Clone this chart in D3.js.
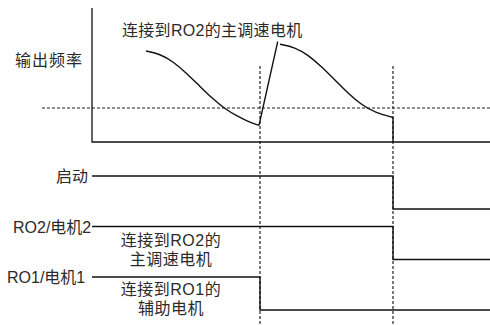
<!DOCTYPE html>
<html>
<head>
<meta charset="utf-8">
<script src="https://cdn.jsdelivr.net/npm/d3@7"></script>
<style>
  body { margin: 0; background: #fff; }
  text { font-family: "Liberation Sans", Arial, "Noto Sans CJK SC", sans-serif; fill: #2a2a2a; }
</style>
</head>
<body>
<svg width="490" height="325"></svg>
<script>
// frequency curves: [time, freq]
const curveAux = [[54, 91], [68, 88], [81, 80.5], [95, 68.5], [108, 55.5], [121, 43], [133, 33], [145, 26], [158, 19.5], [167, 16.7]];
const riseLine = [[167, 16.7], [185.7, 100.3]];
const curveMain = [[188, 97.7], [203, 94.7], [216, 87], [229.7, 75.3], [243, 62], [256, 48.7], [269.7, 37], [283, 29.5], [301, 24.5]];
const dropLine = [[301, 24.5], [301, 0]];
const threshold = 34;
const switchTimes = [168, 301];

// relay signals: [time, level]
const signalNames = ['启动', 'RO2/电机2', 'RO1/电机1'];
const signalSteps = [
  [[0, 1], [301, 0], [398, 0]],
  [[0, 1], [301, 0], [398, 0]],
  [[0, 1], [168, 0], [398, 0]]
];
const topLabel = '连接到RO2的主调速电机';
const yLabel = '输出频率';
const noteRO2 = ['连接到RO2的', '主调速电机'];
const noteRO1 = ['连接到RO1的', '辅助电机'];

const svg = d3.select('svg');
const x = d3.scaleLinear().domain([0, 398]).range([92, 490]);
const y = d3.scaleLinear().domain([0, 134]).range([142, 8]);
const row = d3.scalePoint().domain(signalNames).range([176, 277]);
const level = d3.scaleLinear().domain([0, 1]).range([33, 0]);

// vertical switch markers
svg.selectAll('.vmark')
  .data(switchTimes)
  .enter()
  .append('line')
  .attr('class', 'vmark')
  .attr('x1', d => x(d)).attr('x2', d => x(d))
  .attr('y1', 66).attr('y2', 325)
  .attr('stroke', '#444')
  .attr('stroke-width', 1.4)
  .attr('stroke-dasharray', '3,2');

// threshold
svg.append('line')
  .attr('x1', 42).attr('x2', 490)
  .attr('y1', y(threshold)).attr('y2', y(threshold))
  .attr('stroke', '#222')
  .attr('stroke-width', 1.2)
  .attr('stroke-dasharray', '3,2');

// axes
svg.append('path')
  .attr('d', `M${x(0)},${y(134)}V${y(0)}H${x(398)}`)
  .attr('fill', 'none')
  .attr('stroke', '#111')
  .attr('stroke-width', 1.3);

const smooth = d3.line().x(d => x(d[0])).y(d => y(d[1])).curve(d3.curveBasis);
const straight = d3.line().x(d => x(d[0])).y(d => y(d[1]));

[[curveAux, smooth], [riseLine, straight], [curveMain, smooth], [dropLine, straight]].forEach(([data, gen]) => {
  svg.append('path')
    .attr('d', gen(data))
    .attr('fill', 'none')
    .attr('stroke', '#111')
    .attr('stroke-width', 1.4);
});

svg.append('text')
  .attr('x', 122).attr('y', 36)
  .attr('font-size', 16)
  .attr('letter-spacing', 0.3)
  .text(topLabel);

svg.append('text')
  .attr('x', 15).attr('y', 66)
  .attr('font-size', 16)
  .attr('letter-spacing', 1)
  .text(yLabel);

// signals
signalNames.forEach((name, i) => {
  const base = row(name);
  const step = d3.line()
    .x(d => x(d[0]))
    .y(d => base + level(d[1]))
    .curve(d3.curveStepAfter);
  svg.append('path')
    .attr('d', step(signalSteps[i]))
    .attr('fill', 'none')
    .attr('stroke', '#111')
    .attr('stroke-width', 1.4);
});

svg.append('text').attr('x', 88).attr('y', row('启动') + 6)
  .attr('text-anchor', 'end').attr('font-size', 16).text('启动');
svg.append('text').attr('x', 13).attr('y', row('RO2/电机2') + 6)
  .attr('font-size', 16).text('RO2/电机2');
svg.append('text').attr('x', 7).attr('y', row('RO1/电机1') + 6)
  .attr('font-size', 16).text('RO1/电机1');

[[noteRO2, 246], [noteRO1, 295]].forEach(([lines, y0]) => {
  lines.forEach((t, j) => {
    svg.append('text')
      .attr('x', 171).attr('y', y0 + j * 19)
      .attr('text-anchor', 'middle')
      .attr('font-size', 16)
      .attr('letter-spacing', 0.5)
      .text(t);
  });
});
</script>
</body>
</html>
